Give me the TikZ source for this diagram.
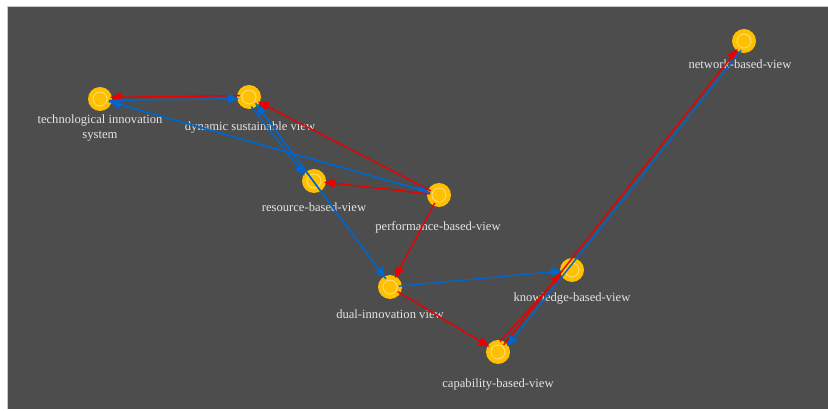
\documentclass[tikz,border=0pt]{standalone}
\usepackage{fontspec}
\setmainfont{Liberation Serif}
\usetikzlibrary{arrows.meta,calc}
\definecolor{bgdark}{RGB}{77,77,77}
\definecolor{framegray}{RGB}{200,200,200}
\definecolor{nodefill}{RGB}{255,192,0}
\definecolor{nodering}{RGB}{255,224,130}
\definecolor{edgered}{RGB}{235,0,0}
\definecolor{edgeblue}{RGB}{0,102,204}
\definecolor{labeltext}{RGB}{228,228,228}
% directed connector, shifted sideways by #1 pt from the centre line
\newcommand\conn[4][0]{\draw[#2] ($(#3)!#1pt!90:(#4)$) -- ($(#4)!#1pt!-90:(#3)$);}
\begin{document}
\begin{tikzpicture}[x=1pt,y=-1pt,
  topic/.style={circle,fill=nodefill,minimum size=24pt,inner sep=0pt,
    path picture={\draw[nodering,line width=0.8pt]
      (path picture bounding box.center) circle (7pt);}},
  nodetext/.style={text=labeltext,font=\fontsize{12.6}{15}\selectfont,
    inner sep=0pt,align=center},
  link/.style={line width=1.4pt,-{Triangle[length=11pt,width=9pt]},
    shorten <=9pt,shorten >=10pt},
  redlink/.style={link,draw=edgered},
  bluelink/.style={link,draw=edgeblue}]
\useasboundingbox (0,0) rectangle (828,411);
\fill[white] (0,0) rectangle (828,411);
\fill[bgdark] (7,6) rectangle (828,409);
\draw[framegray,line width=0.5pt] (7,409) -- (7,6) -- (828,6);

% topics
\node[topic] (tech) at (100,99) {};
\node[topic] (dyn)  at (249,97) {};
\node[topic] (res)  at (314,181) {};
\node[topic] (perf) at (439,195) {};
\node[topic] (dual) at (390,287) {};
\node[topic] (know) at (572,270) {};
\node[topic] (cap)  at (498,352) {};
\node[topic] (net)  at (744,41) {};

% labels
\node[nodetext] (techT) at (100,127.5) {technological innovation\\system};
\node[nodetext] (dynT)  at (250,127) {dynamic sustainable view};
\node[nodetext] (resT)  at (314,207) {resource-based-view};
\node[nodetext] (perfT) at (438,227) {performance-based-view};
\node[nodetext] (dualT) at (390,314) {dual-innovation view};
\node[nodetext] (knowT) at (572,298) {knowledge-based-view};
\node[nodetext] (capT)  at (498,384) {capability-based-view};
\node[nodetext] (netT)  at (740,64) {network-based-view};

% relations
\conn[-1.5]{redlink}{dyn}{tech}
\conn[-1.5]{bluelink}{tech}{dyn}
\conn{bluelink}{tech}{perf}
\conn{bluelink}{perf}{tech}
\conn{redlink}{perf}{dyn}
\conn{redlink}{perf}{res}
\conn{redlink}{perf}{dual}
\conn[-4]{bluelink}{dyn}{res}
\conn[1.5]{bluelink}{dyn}{dual}
\conn[-1.5]{bluelink}{dual}{dyn}
\conn{bluelink}{dual}{know}
\conn{redlink}{dual}{cap}
\conn[5.5]{redlink}{cap}{know}
\conn[0]{redlink}{cap}{net}
\conn[3.5]{bluelink}{net}{cap}
\end{tikzpicture}
\end{document}
